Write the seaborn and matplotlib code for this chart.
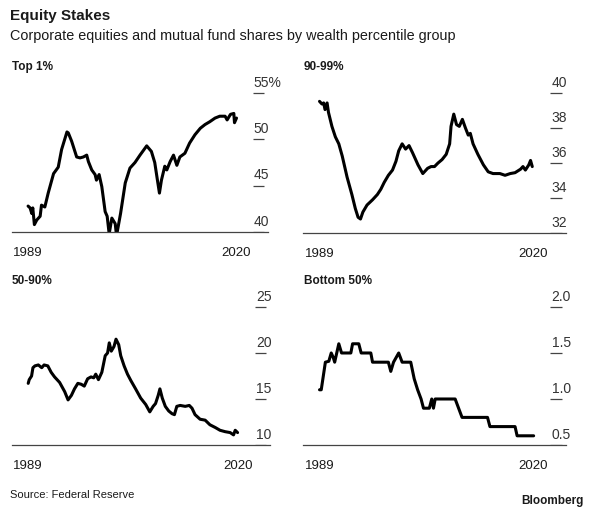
import numpy as np
import pandas as pd
import seaborn as sns
import matplotlib.pyplot as plt
from matplotlib import transforms

# --------------------------------------------------------------------------------------------------
# Data (percent of total held by each group)

top1_years = [1989.0, 1989.3, 1989.55, 1989.7, 1989.94, 1990.3, 1990.8, 1991.0, 1991.5, 1992.0,
              1992.8, 1993.5, 1994.0, 1994.8, 1995.0, 1995.5, 1996.25, 1996.75, 1997.25, 1997.75,
              1998.0, 1998.5, 1999.0, 1999.2, 1999.6, 2000.0, 2000.5, 2000.8, 2001.1, 2001.5,
              2002.0, 2002.2, 2002.5, 2002.8, 2003.5, 2004.2, 2004.95, 2005.7, 2006.7, 2007.4,
              2007.9, 2008.3, 2008.6, 2008.9, 2009.4, 2009.7, 2010.2, 2010.7, 2011.2, 2011.65,
              2012.4, 2013.1, 2013.9, 2014.7, 2015.4, 2016.1, 2016.9, 2017.6, 2018.4, 2018.7,
              2019.2, 2019.7, 2019.8, 2020.1]
top1_values = [42.8, 42.6, 42.0, 42.6, 40.8, 41.3, 41.7, 42.9, 42.7, 44.2,
               46.3, 47.0, 48.9, 50.8, 50.7, 49.8, 48.1, 48.0, 48.1, 48.3,
               47.6, 46.7, 46.2, 45.6, 46.2, 44.9, 42.2, 41.7, 39.8, 41.5,
               40.9, 39.6, 40.8, 42.0, 45.3, 46.9, 47.5, 48.3, 49.3, 48.7,
               47.5, 45.6, 44.2, 45.6, 47.1, 46.7, 47.6, 48.3, 47.2, 48.1,
               48.5, 49.6, 50.5, 51.2, 51.6, 51.9, 52.3, 52.5, 52.5, 52.1,
               52.7, 52.8, 51.8, 52.3]

next9_years = [1989.0, 1989.35, 1989.6, 1989.8, 1990.1, 1990.3, 1990.8, 1991.3, 1991.8, 1992.3,
               1993.0, 1993.7, 1994.2, 1994.6, 1994.95, 1995.3, 1995.9, 1996.7, 1997.4, 1997.9,
               1998.4, 1999.0, 1999.6, 2000.1, 2000.5, 2001.0, 2001.5, 2002.0, 2002.5, 2003.3,
               2004.0, 2004.7, 2005.2, 2005.7, 2006.2, 2006.8, 2007.4, 2007.9, 2008.1, 2008.5,
               2008.9, 2009.3, 2009.75, 2010.2, 2010.6, 2010.9, 2011.3, 2012.0, 2012.8, 2013.5,
               2014.2, 2015.2, 2015.95, 2016.7, 2017.4, 2018.2, 2018.55, 2018.9, 2019.4, 2019.65,
               2019.9]
next9_values = [39.53, 39.38, 39.44, 39.06, 39.44, 38.9, 38.1, 37.5, 37.1, 36.4,
                35.2, 34.2, 33.4, 32.9, 32.8, 33.2, 33.6, 33.9, 34.2, 34.5,
                34.9, 35.3, 35.6, 36.1, 36.7, 37.1, 36.8, 37.0, 36.6, 35.9,
                35.4, 35.7, 35.8, 35.8, 36.0, 36.2, 36.5, 37.1, 38.1, 38.8,
                38.2, 38.1, 38.5, 38.0, 37.6, 37.7, 37.1, 36.5, 35.9, 35.5,
                35.4, 35.4, 35.3, 35.4, 35.45, 35.65, 35.8, 35.6, 35.9, 36.15,
                35.8]

mid_years = [1989.0, 1989.15, 1989.5, 1989.7, 1990.0, 1990.5, 1991.0, 1991.35, 1991.9, 1992.4,
             1992.9, 1993.65, 1994.4, 1994.9, 1995.4, 1995.85, 1996.35, 1996.85, 1997.3, 1997.8,
             1998.3, 1998.7, 1999.0, 1999.4, 1999.9, 2000.4, 2000.75, 2001.0, 2001.3, 2001.7,
             2002.0, 2002.4, 2002.7, 2003.2, 2003.7, 2004.2, 2004.9, 2005.65, 2006.4, 2007.0,
             2007.5, 2007.85, 2008.25, 2008.5, 2008.85, 2009.3, 2009.8, 2010.3, 2010.65, 2011.0,
             2011.5, 2012.25, 2012.85, 2013.25, 2013.7, 2014.45, 2015.2, 2015.9, 2016.7, 2017.4,
             2018.15, 2018.9, 2019.4, 2019.65, 2020.0]
mid_values = [16.7, 17.1, 17.5, 18.4, 18.6, 18.7, 18.4, 18.7, 18.6, 17.9,
              17.4, 16.8, 15.8, 14.9, 15.4, 16.1, 16.7, 16.6, 16.4, 17.2,
              17.4, 17.3, 17.7, 17.1, 17.9, 19.7, 20.0, 21.1, 20.2, 20.7,
              21.5, 20.9, 19.7, 18.6, 17.7, 17.0, 16.1, 15.1, 14.4, 13.6,
              14.2, 14.5, 15.4, 16.1, 15.1, 14.2, 13.7, 13.4, 13.3, 14.2,
              14.3, 14.2, 14.3, 14.0, 13.3, 12.8, 12.7, 12.2, 11.9, 11.6,
              11.45, 11.35, 11.1, 11.6, 11.35]

bottom_years = [1989.0, 1989.25, 1989.85, 1990.35, 1990.7, 1991.0, 1991.2, 1991.5, 1991.8, 1992.2,
                1993.55, 1993.8, 1994.7, 1995.05, 1996.45, 1996.7, 1999.0, 1999.35, 1999.75, 2000.5,
                2001.0, 2002.25, 2002.75, 2003.25, 2003.75, 2004.1, 2004.95, 2005.3, 2005.55, 2005.8,
                2008.7, 2009.2, 2009.7, 2013.4, 2013.75, 2017.4, 2017.7, 2020.1]
bottom_values = [1.1, 1.1, 1.4, 1.41, 1.5, 1.45, 1.4, 1.5, 1.6, 1.5,
                 1.5, 1.6, 1.6, 1.5, 1.5, 1.4, 1.4, 1.3, 1.4, 1.5,
                 1.4, 1.4, 1.22, 1.1, 1.0, 0.9, 0.9, 1.0, 0.9, 1.0,
                 1.0, 0.9, 0.8, 0.8, 0.7, 0.7, 0.6, 0.6]

panel_titles = ["Top 1%", "90-99%", "50-90%", "Bottom 50%"]
top1_ticks = [40, 45, 50, 55]
top1_labels = ["40", "45", "50", "55%"]
next9_ticks = [32, 34, 36, 38, 40]
next9_labels = ["32", "34", "36", "38", "40"]
mid_ticks = [10, 15, 20, 25]
mid_labels = ["10", "15", "20", "25"]
bottom_ticks = [0.5, 1.0, 1.5, 2.0]
bottom_labels = ["0.5", "1.0", "1.5", "2.0"]
year_ticks = [1989, 2020]

# --------------------------------------------------------------------------------------------------

sns.set_style("white")
plt.rcParams['font.family'] = ['Liberation Sans', 'DejaVu Sans']

INK = '#1a1a1a'
GREY = '#444444'


def draw_panel(fig, rect, years, values, ticks, labels, title, title_xy):

    '''
    One small multiple: black line, bottom axis only, right-hand tick labels sitting on short rules.
    '''

    ax = fig.add_axes(rect)
    df = pd.DataFrame({'year': years, 'value': values})
    sns.lineplot(x='year', y='value', data=df, ax=ax, color='black', linewidth=2.2, sort=False)

    span = ticks[-1] - ticks[0]
    ax.set_xlim(1986.6, 2024.8)
    ax.set_ylim(ticks[0], ticks[-1] + 0.094 * span)

    # y "ticks": short rules with the label above them
    trans = ax.get_yaxis_transform()
    ax.hlines(ticks, 0.94, 0.985, transform=trans, color=GREY, linewidth=0.9)
    offset = transforms.offset_copy(trans, fig=fig, x=0, y=4.5, units='points')
    for t, lab in zip(ticks, labels):
        ax.text(0.945, t, lab, transform=offset, ha='left', va='baseline',
                fontsize=10, color='#333333')

    ax.set_yticks([])
    ax.set_xticks(year_ticks)
    ax.set_xticklabels([str(y) for y in year_ticks])
    ax.tick_params(axis='x', length=3.5, width=0.8, color=GREY, labelsize=9.5,
                   labelcolor=INK, pad=7.5)
    ax.set_xlabel('')
    ax.set_ylabel('')
    for side in ['left', 'top', 'right']:
        ax.spines[side].set_visible(False)
    ax.spines['bottom'].set_color(GREY)
    ax.spines['bottom'].set_linewidth(0.9)
    ax.patch.set_alpha(0)

    fig.text(title_xy[0], title_xy[1], title, fontsize=8.5, fontweight='bold',
             color=INK, va='center', ha='left')
    return ax


H = 518.0
W = 600.0
fig = plt.figure(figsize=(6.0, 5.18), dpi=100)

draw_panel(fig, [12 / W, 1 - 232 / H, 256 / W, 152 / H], top1_years, top1_values,
           top1_ticks, top1_labels, panel_titles[0], (12 / W, 1 - 67 / H))
draw_panel(fig, [303 / W, 1 - 233 / H, 263 / W, 153 / H], next9_years, next9_values,
           next9_ticks, next9_labels, panel_titles[1], (304 / W, 1 - 67 / H))
draw_panel(fig, [12 / W, 1 - 445 / H, 258 / W, 151 / H], mid_years, mid_values,
           mid_ticks, mid_labels, panel_titles[2], (12 / W, 1 - 281 / H))
draw_panel(fig, [303 / W, 1 - 445 / H, 263 / W, 151 / H], bottom_years, bottom_values,
           bottom_ticks, bottom_labels, panel_titles[3], (304 / W, 1 - 281 / H))

fig.text(10 / W, 1 - 16 / H, "Equity Stakes", fontsize=11, fontweight='bold',
         color=INK, va='center', ha='left')
fig.text(10 / W, 1 - 36 / H, "Corporate equities and mutual fund shares by wealth percentile group",
         fontsize=10.4, color=INK, va='center', ha='left')
fig.text(10 / W, 1 - 495 / H, "Source: Federal Reserve", fontsize=8,
         color=INK, va='center', ha='left')
fig.text(584 / W, 1 - 501 / H, "Bloomberg", fontsize=8.5, fontweight='bold',
         color=INK, va='center', ha='right')

fig.savefig('out.png', dpi=100)
